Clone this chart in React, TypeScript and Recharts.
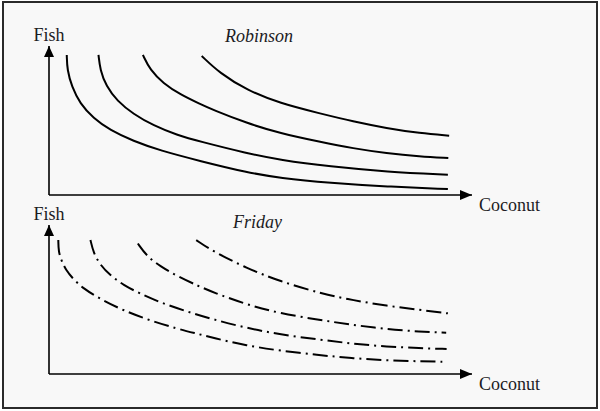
import { LineChart, Line, XAxis, YAxis, ReferenceDot, Label, Customized } from "recharts";

// Indifference curves, arbitrary units (0-100 on both axes)
const ROBINSON_1 = [[4.2, 94.0], [4.3, 83.9], [5.4, 72.7], [7.3, 61.5], [10.5, 51.5], [14.4, 43.6], [19.9, 36.2], [26.2, 29.9], [35.7, 22.8], [46.8, 15.1], [54.6, 11.4], [66.4, 8.1], [79.9, 5.6], [94.3, 4.0]];
const ROBINSON_2 = [[11.7, 94.0], [12.1, 83.9], [13.5, 73.2], [16.1, 63.1], [19.9, 54.4], [24.7, 46.6], [30.2, 40.3], [35.7, 35.9], [46.8, 28.0], [54.6, 23.5], [66.4, 19.1], [79.9, 15.6], [94.3, 13.6]];
const ROBINSON_3 = [[22.2, 94.0], [23.9, 83.9], [27.0, 75.0], [31.0, 67.5], [35.7, 61.1], [38.8, 57.1], [46.7, 48.3], [54.6, 41.4], [64.1, 35.6], [71.9, 31.3], [79.8, 28.0], [87.7, 25.8], [94.4, 24.8]];
const ROBINSON_4 = [[36.1, 93.3], [40.4, 81.7], [46.7, 70.5], [54.6, 61.5], [64.1, 54.7], [71.9, 49.3], [79.8, 44.8], [87.7, 41.4], [94.6, 39.8]];

const FRIDAY_1 = [[2.2, 89.9], [2.25, 81.9], [3.0, 75.8], [4.0, 69.8], [5.7, 63.8], [8.1, 57.4], [12.1, 50.3], [17.6, 42.6], [23.9, 35.9], [30.2, 30.5], [35.2, 26.9], [38.8, 24.2], [46.7, 19.1], [54.6, 15.6], [64.1, 12.6], [71.9, 10.5], [79.8, 9.2], [87.7, 8.5], [94.0, 8.2]];
const FRIDAY_2 = [[9.8, 89.9], [10.5, 81.5], [12.1, 73.2], [14.4, 66.4], [17.6, 59.7], [21.5, 54.0], [26.2, 48.1], [32.2, 42.3], [38.8, 36.6], [46.7, 30.9], [54.6, 26.5], [64.1, 23.0], [71.9, 20.3], [79.8, 18.4], [87.7, 17.3], [94.0, 16.8]];
const FRIDAY_3 = [[21.0, 87.6], [23.1, 79.2], [26.2, 72.5], [30.5, 65.4], [35.3, 59.1], [38.8, 54.8], [46.7, 46.6], [54.6, 40.7], [64.1, 36.2], [71.9, 32.9], [79.8, 30.1], [87.7, 28.4], [93.9, 27.7]];
const FRIDAY_4 = [[34.8, 89.9], [38.8, 82.2], [46.7, 71.1], [54.6, 62.1], [64.8, 53.7], [71.9, 49.5], [79.8, 45.8], [87.7, 43.0], [94.3, 40.7]];

const ROBINSON_CURVES = [ROBINSON_1, ROBINSON_2, ROBINSON_3, ROBINSON_4];
const FRIDAY_CURVES = [FRIDAY_1, FRIDAY_2, FRIDAY_3, FRIDAY_4];

const FONT = '"Liberation Serif", "Times New Roman", serif';
const INK = "#1c1c24";

const toPoints = (pairs: number[][]) => pairs.map(([x, y]) => ({ x, y }));

const ArrowRight = (p: any) => (
  <path d={`M${p.cx},${p.cy} L${p.cx - 12},${p.cy - 5} L${p.cx - 12},${p.cy + 5} Z`} fill="#000" />
);
const ArrowUp = (p: any) => (
  <path d={`M${p.cx},${p.cy} L${p.cx - 5},${p.cy + 11} L${p.cx + 5},${p.cy + 11} Z`} fill="#000" />
);

const axisName = (text: string, dx: number, dy: number, fromEnd: boolean) => (props: any) => {
  const vb = props.viewBox || {};
  const x = (vb.x || 0) + (fromEnd ? vb.width || 0 : 0) + dx;
  const y = (vb.y || 0) + dy;
  return (
    <text x={x} y={y} fontFamily={FONT} fontSize={18} fill={INK}>
      {text}
    </text>
  );
};

type PanelProps = {
  curves: number[][][];
  title: string;
  titleX: number;
  titleY: number;
  top: number;
  bottom: number;
  dash?: string;
};

const Panel = ({ curves, title, titleX, titleY, top, bottom, dash }: PanelProps) => (
  <div style={{ position: "absolute", left: 0, top: 0 }}>
    <LineChart width={600} height={411} margin={{ top, right: 128, bottom, left: 48 }}>
      <XAxis
        type="number"
        dataKey="x"
        domain={[0, 100]}
        height={1}
        tick={false}
        tickLine={false}
        axisLine={{ stroke: "#000", strokeWidth: 1.6 }}
        allowDataOverflow
      >
        <Label content={axisName("Coconut", 7, 16, true)} />
      </XAxis>
      <YAxis
        type="number"
        domain={[0, 100]}
        width={1}
        tick={false}
        tickLine={false}
        axisLine={{ stroke: "#000", strokeWidth: 1.6 }}
        allowDataOverflow
      >
        <Label content={axisName("Fish", -14.5, -5.5, false)} />
      </YAxis>
      {curves.map((c, i) => (
        <Line
          key={i}
          data={toPoints(c)}
          dataKey="y"
          type="basis"
          stroke="#000"
          strokeWidth={2}
          strokeDasharray={dash}
          dot={false}
          activeDot={false}
          isAnimationActive={false}
        />
      ))}
      <ReferenceDot x={100} y={0} r={0} ifOverflow="visible" shape={ArrowRight} />
      <ReferenceDot x={0} y={100} r={0} ifOverflow="visible" shape={ArrowUp} />
      <Customized
        component={() => (
          <text x={titleX} y={titleY} fontFamily={FONT} fontStyle="italic" fontSize={18} fill={INK}>
            {title}
          </text>
        )}
      />
    </LineChart>
  </div>
);

export default function App() {
  return (
    <div style={{ position: "absolute", left: 0, top: 0, width: 600, height: 411, background: "#fff" }}>
      <div
        style={{
          position: "absolute",
          left: 2,
          top: 1,
          width: 596,
          height: 408,
          boxSizing: "border-box",
          border: "2px solid #2a2a2a",
          background: "#f8f8f8",
        }}
      />
      <Panel curves={ROBINSON_CURVES} title="Robinson" titleX={225} titleY={42} top={46} bottom={215} />
      <Panel curves={FRIDAY_CURVES} title="Friday" titleX={233} titleY={228} top={225} bottom={36} dash="15 5 2 5" />
    </div>
  );
}
